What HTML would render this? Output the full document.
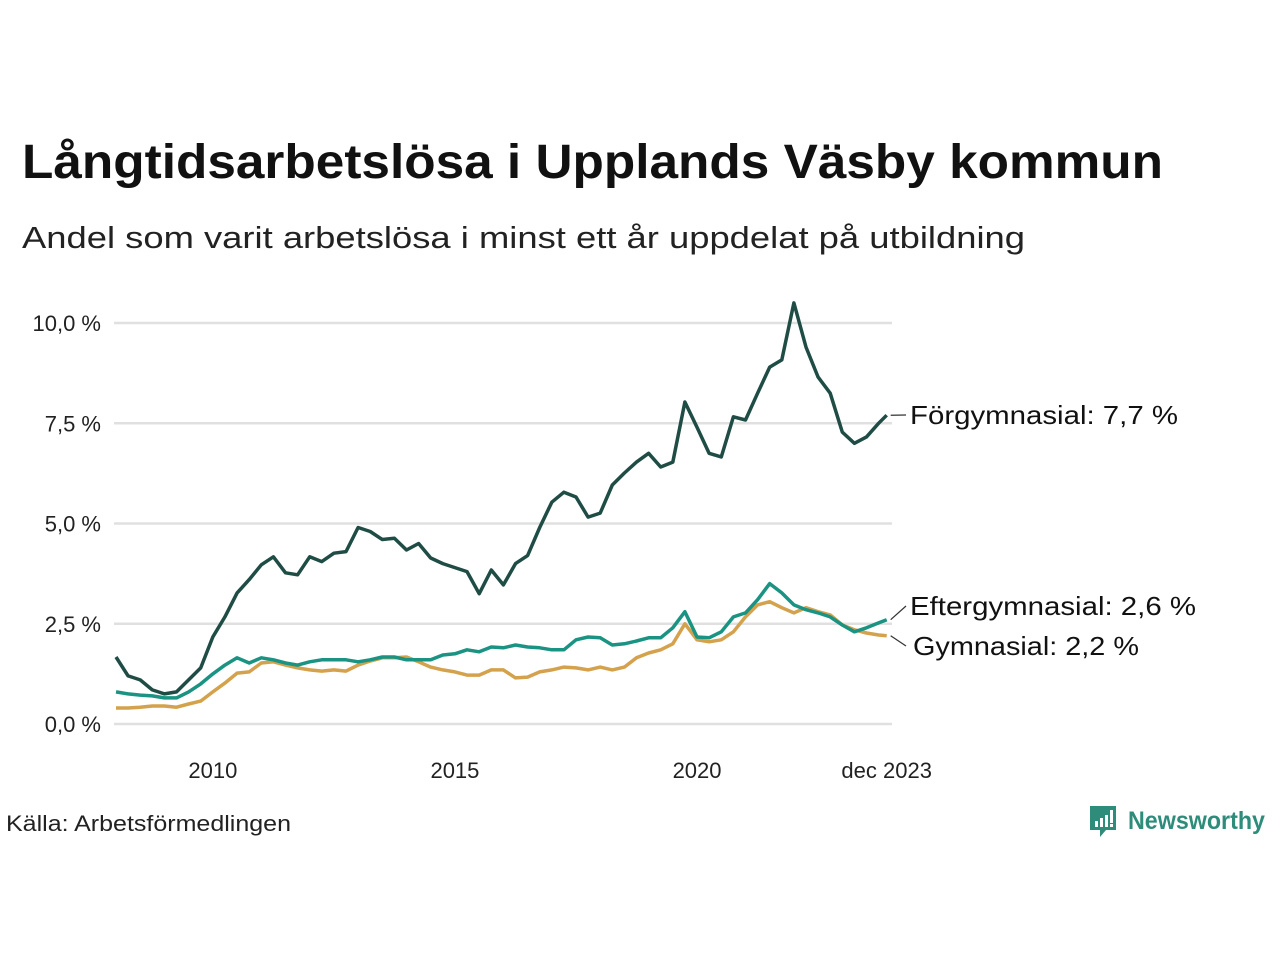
<!DOCTYPE html>
<html><head><meta charset="utf-8">
<style>
body{margin:0;background:#fff;width:1280px;height:960px;overflow:hidden;font-family:"Liberation Sans","DejaVu Sans",sans-serif;}
svg text{font-family:"Liberation Sans","DejaVu Sans",sans-serif;}
</style></head>
<body>
<svg id="chart" width="1280" height="960">
<text x="22" y="178" font-size="48" font-weight="bold" fill="#111" textLength="1141" lengthAdjust="spacingAndGlyphs">Långtidsarbetslösa i Upplands Väsby kommun</text>
<text x="22" y="248" font-size="31" fill="#222" textLength="1003" lengthAdjust="spacingAndGlyphs">Andel som varit arbetslösa i minst ett år uppdelat på utbildning</text>
<g id="grid"></g>
<g id="yticks"></g>
<g id="xticks"></g>
<g id="lines"></g>
<g id="labels"></g>
<text x="6" y="831" font-size="22" fill="#222" textLength="285" lengthAdjust="spacingAndGlyphs">Källa: Arbetsförmedlingen</text>
<g>
<path d="M1090 806 h26 v24 h-10 l-6 7 v-7 h-10 z" fill="#2e8c7a"/>
<rect x="1095" y="821" width="3" height="6" fill="#fff"/><rect x="1100" y="818" width="3" height="9" fill="#fff"/><rect x="1105" y="815" width="3" height="12" fill="#fff"/><rect x="1110" y="810" width="3" height="13" fill="#fff"/><rect x="1110" y="824" width="3" height="3" fill="#fff"/>
<text x="1128" y="829" font-size="25" font-weight="bold" fill="#2e8c7a" textLength="137" lengthAdjust="spacingAndGlyphs">Newsworthy</text>
</g>
</svg>
<script>
const yTicks=[0,2.5,5,7.5,10];
const yTickLabels=["0,0 %","2,5 %","5,0 %","7,5 %","10,0 %"];
const xTickMonths=[24,84,144,191];
const xTickLabels=["2010","2015","2020","dec 2023"];
const months=[0,3,6,9,12,15,18,21,24,27,30,33,36,39,42,45,48,51,54,57,60,63,66,69,72,75,78,81,84,87,90,93,96,99,102,105,108,111,114,117,120,123,126,129,132,135,138,141,144,147,150,153,156,159,162,165,168,171,174,177,180,183,186,189,191];
const forgym=[1.67,1.2,1.1,0.85,0.75,0.8,1.1,1.4,2.17,2.67,3.27,3.6,3.97,4.17,3.77,3.72,4.17,4.05,4.26,4.3,4.9,4.8,4.6,4.63,4.34,4.5,4.14,4.0,3.9,3.8,3.25,3.84,3.47,4.0,4.2,4.9,5.53,5.78,5.66,5.16,5.26,5.96,6.26,6.53,6.75,6.41,6.53,8.03,7.4,6.75,6.66,7.66,7.58,8.25,8.9,9.08,10.5,9.4,8.65,8.25,7.28,7.0,7.16,7.5,7.7];
const eftergym=[0.8,0.75,0.72,0.7,0.65,0.65,0.8,1.0,1.25,1.47,1.65,1.52,1.65,1.6,1.52,1.47,1.55,1.6,1.6,1.6,1.55,1.6,1.67,1.67,1.6,1.6,1.6,1.72,1.75,1.85,1.8,1.92,1.9,1.97,1.92,1.9,1.85,1.85,2.1,2.17,2.15,1.97,2.0,2.07,2.15,2.15,2.4,2.8,2.17,2.15,2.3,2.67,2.77,3.1,3.5,3.27,2.97,2.85,2.77,2.67,2.47,2.3,2.4,2.52,2.6];
const gym=[0.4,0.4,0.42,0.45,0.45,0.42,0.5,0.57,0.8,1.02,1.27,1.3,1.52,1.55,1.47,1.4,1.35,1.32,1.35,1.32,1.47,1.57,1.65,1.65,1.67,1.55,1.42,1.35,1.3,1.22,1.22,1.35,1.35,1.15,1.17,1.3,1.35,1.42,1.4,1.35,1.42,1.35,1.42,1.65,1.77,1.85,2.0,2.5,2.1,2.05,2.1,2.3,2.67,2.97,3.05,2.9,2.77,2.9,2.8,2.72,2.47,2.35,2.27,2.22,2.2];
const seriesNames=["Förgymnasial: 7,7 %","Eftergymnasial: 2,6 %","Gymnasial: 2,2 %"];
const NS="http://www.w3.org/2000/svg";
const X=m=>116+m*4.035;
const Y=v=>724-v*40.1;
function mk(tag,attrs,parent){const e=document.createElementNS(NS,tag);for(const k in attrs)e.setAttribute(k,attrs[k]);parent.appendChild(e);return e;}
const grid=document.getElementById('grid'),yt=document.getElementById('yticks'),xt=document.getElementById('xticks'),lines=document.getElementById('lines'),labels=document.getElementById('labels');
yTicks.forEach((v,i)=>{
 const l=mk('line',{x1:114,x2:892,y1:Y(v),y2:Y(v),stroke:'#e0e0e0','stroke-width':2.5},grid);
 
 
 const t=mk('text',{x:101,y:Y(v)+8,'font-size':22,fill:'#222','text-anchor':'end'},yt);
 t.textContent=yTickLabels[i];
 
 
});
xTickMonths.forEach((m,i)=>{
 const t=mk('text',{x:X(m),y:778,'font-size':22,fill:'#222','text-anchor':'middle'},xt);
 t.textContent=xTickLabels[i];
 
 
});
function draw(vals,color,name){
 const d=vals.map((v,i)=>(i?'L':'M')+X(months[i]).toFixed(1)+' '+Y(v).toFixed(1)).join(' ');
 const p=mk('path',{d:d,fill:'none',stroke:color,'stroke-width':3.5,'stroke-linejoin':'round'},lines);
 
 
}
draw(gym,'#d4a24c','line-gymnasial');
draw(eftergym,'#1a9383','line-eftergymnasial');
draw(forgym,'#1f4d45','line-forgymnasial');
const last=months.length-1;
const lab=[[forgym[last],415,910,268],[eftergym[last],606,910,286],[gym[last],646,913,226]];
lab.forEach((a,i)=>{
 const ly=a[1];
 mk('line',{x1:X(months[last])+4,y1:Y(a[0]),x2:906,y2:ly,stroke:'#333','stroke-width':1.2},labels);
 const t=mk('text',{x:a[2],y:ly+9,'font-size':26,fill:'#111',textLength:a[3],lengthAdjust:'spacingAndGlyphs'},labels);
 t.textContent=seriesNames[i];
 
 
});
</script>
</body></html>
